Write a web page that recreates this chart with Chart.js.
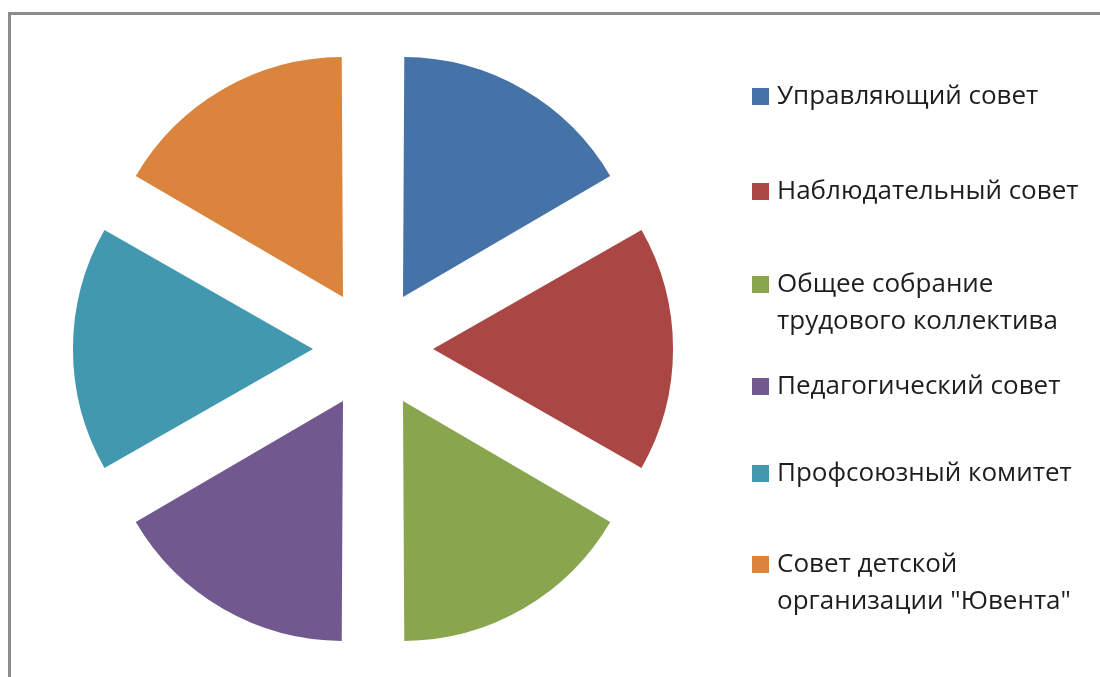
<!DOCTYPE html>
<html>
<head>
<meta charset="utf-8">
<script src="https://cdn.jsdelivr.net/npm/chart.js@4"></script>
<style>
    html, body { margin: 0; padding: 0; background: #fff; }
    #wrap { position: relative; width: 1100px; height: 677px; overflow: hidden; }
    #frame {
        position: absolute; left: 8px; top: 12px; width: 1200px; height: 800px;
        border: 3px solid #8c8c8c; box-sizing: border-box;
    }
    #chart { position: absolute; left: 0; top: 0; }
    .legend-item {
        position: absolute; left: 752px;
        font-family: "Open Sans", sans-serif; font-size: 26px; line-height: 37px;
        color: #1e1e1e; white-space: nowrap;
    }
    .legend-box {
        position: absolute; left: 0; top: 12px; width: 17px; height: 17px;
    }
    .legend-text { position: absolute; left: 25px; top: 0; }
</style>
</head>
<body>
<div id="wrap">
    <div id="frame"></div>
    <canvas id="chart" width="1100" height="677"></canvas>
</div>
<script>
    // chart data
    const labels = [
        "Управляющий совет",
        "Наблюдательный совет",
        ["Общее собрание", "трудового коллектива"],
        "Педагогический совет",
        "Профсоюзный комитет",
        ["Совет детской", "организации \"Ювента\""]
    ];
    const values = [1, 1, 1, 1, 1, 1];
    const colors = ["#4572A7", "#AA4643", "#89A54E", "#71588F", "#4198AF", "#DB843D"];

    // legend rows (top of each entry, px)
    const legendTops = [76, 171, 264, 366, 453, 544];

    const ctx = document.getElementById("chart").getContext("2d");

    new Chart(ctx, {
        type: "pie",
        data: {
            labels: labels,
            datasets: [{
                data: values,
                backgroundColor: colors,
                borderWidth: 0,
                offset: 240,
                radius: 232
            }]
        },
        options: {
            responsive: false,
            animation: false,
            events: [],
            layout: {
                padding: { left: 0, right: 354, top: 21, bottom: 0 }
            },
            plugins: {
                legend: { display: false },
                tooltip: { enabled: false }
            }
        }
    });

    // html legend, built from the same arrays
    const wrap = document.getElementById("wrap");
    labels.forEach((label, i) => {
        const item = document.createElement("div");
        item.className = "legend-item";
        item.style.top = legendTops[i] + "px";
        const lines = Array.isArray(label) ? label : [label];
        item.innerHTML = `
            <div class="legend-box" style="background:${colors[i]}"></div>
            <div class="legend-text">${lines.join("<br>")}</div>
        `;
        wrap.appendChild(item);
    });
</script>
</body>
</html>
